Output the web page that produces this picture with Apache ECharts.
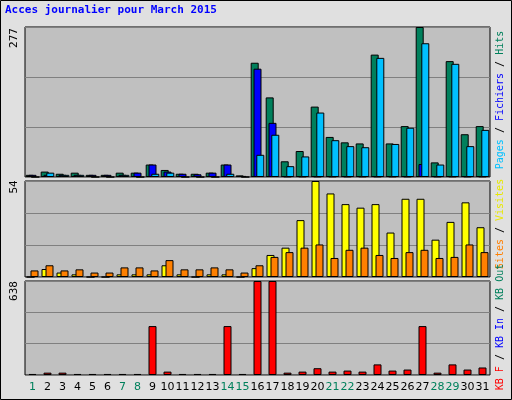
<!DOCTYPE html>
<html><head><meta charset="utf-8">
<script src="https://cdn.jsdelivr.net/npm/echarts@6/dist/echarts.min.js"></script>
<style>html,body{margin:0;padding:0;background:#e0e0e0}#c{width:512px;height:400px}</style>
</head><body><div id="c"></div>
<script>
const days = ['1','2','3','4','5','6','7','8','9','10','11','12','13','14','15','16','17','18','19','20','21','22','23','24','25','26','27','28','29','30','31'];
const weekend = ['1','7','8','14','15','21','22','28','29'];
const hits = [4,10,6,8,4,4,8,8,23,13,6,6,8,23,3,211,147,29,48,130,74,64,62,226,62,94,277,27,214,79,94];
const files = [4,4,4,4,4,4,4,8,23,10,6,5,8,23,2,200,100,1,1,1,1,1,1,1,1,1,24,1,1,1,1];
const pages = [0,8,4,4,0,0,4,0,6,8,0,0,0,6,0,41,78,20,38,119,68,57,55,220,61,91,247,23,209,57,87];
const visits = [0,4.5,2.5,1.5,0,0,1.5,1.5,1.5,6.6,1.5,0,1.5,1.5,0,5,12.4,16.5,32,54,47,41,39,41,25,44,44,21,31,42,28];
const sites = [3.7,6.6,3.7,4.3,2.5,2.5,5.4,5.4,3.7,9.5,4.3,4.3,5.4,4.3,2.5,6.6,11.3,14,16.5,18.3,10.7,15.3,16.5,12.4,10.7,14,15.3,10.7,11.3,18.3,14];
const kbytes = [7,16,16,7,7,7,7,7,332,23,7,7,7,332,7,638,638,16,23,46,23,30,23,72,30,37,332,16,72,37,51];
const maxes = [277,54,638];

const chart = echarts.init(document.getElementById('c'));
const grids = [{left:25,right:22,top:27,height:150},{left:25,right:22,top:181,height:96},{left:25,right:22,top:281,height:94}];
const xAxes = grids.map((g,i)=>({type:'category',gridIndex:i,data:days,
  axisLine:{show:false},axisTick:{show:false},
  axisLabel:{show:i===2,fontFamily:'DejaVu Sans',fontSize:11,margin:7,interval:0,
    color:(v)=>weekend.includes(v)?'#00805c':'#000'}}));
const yAxes = grids.map((g,i)=>({type:'value',gridIndex:i,min:0,max:maxes[i],interval:maxes[i]/3,
  axisLabel:{show:false},axisLine:{show:false},axisTick:{show:false},
  splitLine:{lineStyle:{color:'#808080',width:1}}}));
const bs = {borderColor:'#000',borderWidth:1};
const F = '10px "DejaVu Sans Mono"';
const R = Math.PI/2;
chart.setOption({
  backgroundColor:'#e0e0e0',animation:false,
  grid:grids.map(g=>Object.assign({backgroundColor:'#c0c0c0',show:true,borderColor:'#000',borderWidth:1},g)),
  xAxis:xAxes,yAxis:yAxes,
  graphic:[
    {type:'rect',shape:{x:0.5,y:0.5,width:511,height:399},style:{fill:'none',stroke:'#000',lineWidth:1}},
    {type:'text',left:5,top:5,style:{text:'Acces journalier pour March 2015',fill:'#0000ff',font:'bold 11px "DejaVu Sans Mono"'}},
    {type:'text',x:14,y:38,rotation:R,style:{text:'277',fill:'#000',font:'11px "DejaVu Sans Mono"',align:'center',verticalAlign:'middle'}},
    {type:'text',x:14,y:187,rotation:R,style:{text:'54',fill:'#000',font:'11px "DejaVu Sans Mono"',align:'center',verticalAlign:'middle'}},
    {type:'text',x:14,y:291,rotation:R,style:{text:'638',fill:'#000',font:'11px "DejaVu Sans Mono"',align:'center',verticalAlign:'middle'}},
    {type:'text',x:500,y:100,rotation:R,style:{align:'center',verticalAlign:'middle',font:F,
      rich:{a:{fill:'#00c0ff',font:F},b:{fill:'#000',font:F},c:{fill:'#0000ff',font:F},d:{fill:'#00805c',font:F}},
      text:'{a|Pages}{b| / }{c|Fichiers}{b| / }{d|Hits}'}},
    {type:'text',x:500,y:224,rotation:R,style:{align:'center',verticalAlign:'middle',font:F,
      rich:{a:{fill:'#ff8000',font:F},b:{fill:'#000',font:F},c:{fill:'#e8e800',font:F},d:{fill:'#00805c',font:F}},
      text:'{a|Sites}{b| / }{c|Visites}'}},
    {type:'text',x:500,y:327,rotation:R,style:{align:'center',verticalAlign:'middle',font:F,
      rich:{a:{fill:'#ff0000',font:F},b:{fill:'#000',font:F},c:{fill:'#0000ff',font:F},d:{fill:'#00805c',font:F}},
      text:'{a|KB F}{b| / }{c|KB In}{b| / }{d|KB Out}'}}
  ],
  series:[
    {type:'bar',xAxisIndex:0,yAxisIndex:0,data:hits,barWidth:8,barGap:'-65%',itemStyle:Object.assign({color:'#00805c'},bs)},
    {type:'bar',xAxisIndex:0,yAxisIndex:0,data:files,barWidth:8,barGap:'-65%',itemStyle:Object.assign({color:'#0000ff'},bs)},
    {type:'bar',xAxisIndex:0,yAxisIndex:0,data:pages,barWidth:8,barGap:'-65%',itemStyle:Object.assign({color:'#00c0ff'},bs)},
    {type:'bar',xAxisIndex:1,yAxisIndex:1,data:visits,barWidth:8,barGap:'-50%',itemStyle:Object.assign({color:'#ffff00'},bs)},
    {type:'bar',xAxisIndex:1,yAxisIndex:1,data:sites,barWidth:8,barGap:'-50%',itemStyle:Object.assign({color:'#ff8000'},bs)},
    {type:'bar',xAxisIndex:2,yAxisIndex:2,data:kbytes,barWidth:8,itemStyle:Object.assign({color:'#ff0000'},bs)}
  ]
});
</script></body></html>
